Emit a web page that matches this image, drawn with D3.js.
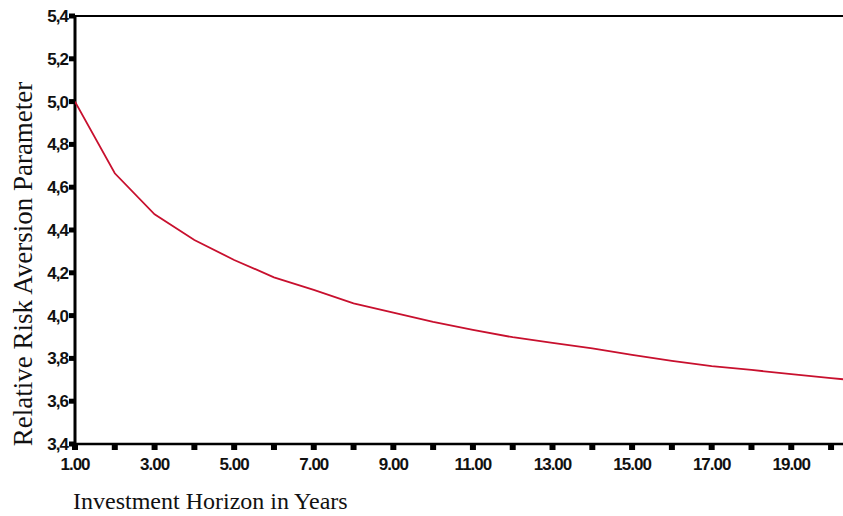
<!DOCTYPE html>
<html>
<head>
<meta charset="utf-8">
<script src="https://cdn.jsdelivr.net/npm/d3@7.9.0/dist/d3.min.js"></script>
<style>
  body { margin: 0; background: #fff; }
  svg { display: block; }
  .tick-label { font-family: "Liberation Sans", Arial, sans-serif; font-weight: bold; font-size: 17px; letter-spacing: -1px; fill: #111; }
  .axis-title { font-family: "Liberation Serif", "Times New Roman", serif; fill: #111; }
</style>
</head>
<body>
<svg width="843" height="516"></svg>
<script>
// horizon in years and the fitted parameter (last point runs past the frame)
const years = [1, 2, 3, 4, 5, 6, 7, 8, 9, 10, 11, 12, 13, 14, 15, 16, 17, 18, 19, 20, 21];
const riskAversion = [5.0, 4.665, 4.473, 4.353, 4.26, 4.179, 4.12, 4.057, 4.014, 3.971,
  3.933, 3.899, 3.873, 3.847, 3.816, 3.788, 3.764, 3.746, 3.727, 3.708, 3.69];
const yTicks = [3.4, 3.6, 3.8, 4.0, 4.2, 4.4, 4.6, 4.8, 5.0, 5.2, 5.4];
const xLabelTicks = [1, 3, 5, 7, 9, 11, 13, 15, 17, 19];
const xMinorTicks = [2, 4, 6, 8, 10, 12, 14, 16, 18, 20];

const svg = d3.select('svg');
const plotLeft = 75, plotTop = 16, plotBottom = 444, plotRight = 843;

const x = d3.scaleLinear().domain([1, 20.3]).range([plotLeft, plotRight]);
const y = d3.scaleLinear().domain([3.4, 5.4]).range([plotBottom, plotTop]);

svg.append('clipPath').attr('id', 'plot-clip')
  .append('rect')
  .attr('x', plotLeft).attr('y', plotTop)
  .attr('width', plotRight - plotLeft).attr('height', plotBottom - plotTop);

// top frame line
svg.append('line')
  .attr('x1', plotLeft).attr('x2', plotRight)
  .attr('y1', plotTop).attr('y2', plotTop)
  .attr('stroke', '#000').attr('stroke-width', 2);

// y axis
svg.append('line')
  .attr('x1', plotLeft).attr('x2', plotLeft)
  .attr('y1', plotTop - 1).attr('y2', plotBottom + 1)
  .attr('stroke', '#000').attr('stroke-width', 3);

yTicks.forEach((v) => {
  svg.append('rect')
    .attr('x', plotLeft - 6).attr('y', y(v) - 2.5)
    .attr('width', 6).attr('height', 5)
    .attr('fill', '#000');
  svg.append('text')
    .attr('class', 'tick-label')
    .attr('x', plotLeft - 7).attr('y', y(v) + 6)
    .attr('text-anchor', 'end')
    .text(d3.format('.1f')(v).replace('.', ','));
});

// x axis
svg.append('line')
  .attr('x1', plotLeft - 1).attr('x2', plotRight)
  .attr('y1', plotBottom).attr('y2', plotBottom)
  .attr('stroke', '#000').attr('stroke-width', 2.5);

xLabelTicks.concat(xMinorTicks).forEach((v) => {
  svg.append('rect')
    .attr('x', x(v) - 3).attr('y', plotBottom)
    .attr('width', 6).attr('height', 6)
    .attr('fill', '#000');
});

xLabelTicks.forEach((v) => {
  svg.append('text')
    .attr('class', 'tick-label')
    .attr('x', x(v)).attr('y', plotBottom + 26)
    .attr('text-anchor', 'middle')
    .text(d3.format('.2f')(v));
});

// the curve
const line = d3.line()
  .x((d, i) => x(years[i]))
  .y((d) => y(d));

svg.append('path')
  .datum(riskAversion)
  .attr('clip-path', 'url(#plot-clip)')
  .attr('d', line)
  .attr('fill', 'none')
  .attr('stroke', '#c8102e')
  .attr('stroke-width', 1.8);

// axis titles
svg.append('text')
  .attr('class', 'axis-title')
  .attr('font-size', 27)
  .attr('transform', `translate(32, 264) rotate(-90)`)
  .attr('text-anchor', 'middle')
  .text('Relative Risk Aversion Parameter');

svg.append('text')
  .attr('class', 'axis-title')
  .attr('font-size', 24)
  .attr('x', plotLeft - 2).attr('y', 509)
  .text('Investment Horizon in Years');
</script>
</body>
</html>
